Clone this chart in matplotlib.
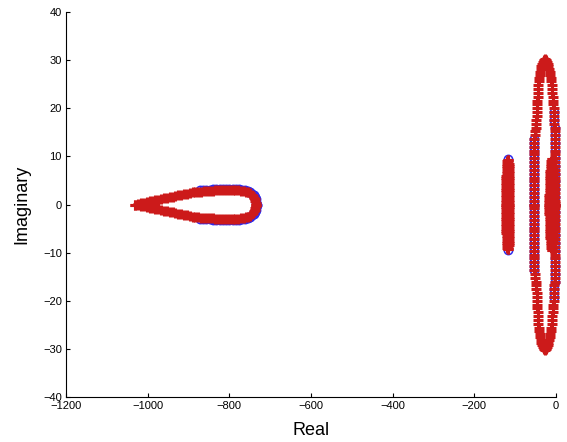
import numpy as np
import matplotlib
matplotlib.use('agg')
import matplotlib.pyplot as plt

plt.rcParams['font.family'] = ['Liberation Sans', 'DejaVu Sans']

# eigenvalues, upper half-plane only (the lower half is the complex conjugate)

# long branch on the far left: tip of the "V" and its closed end
tear_re = [-1030, -1023, -1016, -1009, -1002, -995, -988, -981, -974, -967,
           -960, -953, -946, -939, -932, -925, -918, -911, -904, -897,
           -890, -883, -876, -869, -862, -855, -848, -841, -834, -827,
           -820, -813, -806, -799, -792, -785, -778, -771, -765, -759,
           -754, -749, -745, -742, -739, -737, -736, -735, -735]
tear_im = [0.00, 0.12, 0.25, 0.38, 0.50, 0.63, 0.76, 0.88, 1.01, 1.14,
           1.27, 1.39, 1.52, 1.65, 1.77, 1.90, 2.03, 2.15, 2.28, 2.40,
           2.50, 2.58, 2.64, 2.70, 2.75, 2.80, 2.85, 2.90, 2.94, 2.97,
           3.00, 3.02, 3.03, 3.03, 3.02, 3.00, 2.95, 2.88, 2.78, 2.65,
           2.50, 2.30, 2.05, 1.75, 1.40, 1.05, 0.70, 0.35, 0.00]

# reference model only covers the closed end of that branch
tear_ref_re = [-872, -864, -856, -848, -840, -832, -824, -816, -808, -800,
               -792, -784, -776, -768, -761, -755, -749, -744, -740, -737,
               -735, -734, -733]
tear_ref_im = [2.95, 3.00, 3.05, 3.10, 3.15, 3.19, 3.22, 3.24, 3.25, 3.25,
               3.24, 3.22, 3.16, 3.06, 2.92, 2.75, 2.52, 2.22, 1.88, 1.48,
               1.05, 0.55, 0.00]

# straight column near -53
col_re = [-53.0, -53.0, -53.0, -53.1, -53.1, -53.1, -53.1, -53.1, -53.1,
          -53.1, -53.1, -53.0, -53.0, -53.0, -53.0, -53.0, -52.9, -52.8]
col_im = [0.0, 0.8, 1.6, 2.4, 3.2, 4.0, 4.8, 5.6, 6.4,
          7.2, 8.0, 8.8, 9.6, 10.4, 11.2, 12.0, 12.8, 13.6]

# outer loop: left side going up, then right side coming down
loop_re = [-52.0, -50.8, -49.6, -48.8, -48.1, -47.5, -46.9, -46.4, -45.9,
           -45.4, -44.9, -44.3, -43.6, -42.9, -42.0, -41.0, -39.9, -38.6,
           -37.2, -35.6, -33.9, -32.0, -30.0, -28.2, -27.0,
           -25.5, -24.0, -22.4, -20.8, -19.0, -17.2, -15.5, -14.0, -12.6,
           -11.4, -10.3, -9.4, -8.6, -7.9, -7.2, -6.5, -5.9, -5.3, -4.7,
           -4.2, -3.7, -3.3, -3.0, -2.8, -2.6, -2.5, -2.5, -2.4, -2.4,
           -2.4, -2.3, -2.3, -2.3, -2.3, -2.3, -2.3, -2.3, -2.3, -2.3,
           -2.3, -2.3, -2.3, -2.3]
loop_im = [14.4, 15.2, 16.0, 16.8, 17.6, 18.4, 19.2, 20.0, 20.8,
           21.6, 22.4, 23.2, 24.0, 24.8, 25.6, 26.3, 27.0, 27.6,
           28.2, 28.7, 29.2, 29.6, 29.9, 30.1, 30.2,
           30.1, 29.9, 29.6, 29.2, 28.7, 28.2, 27.6, 27.0, 26.3,
           25.6, 24.8, 24.0, 23.2, 22.4, 21.6, 20.8, 20.0, 19.2, 18.4,
           17.6, 16.8, 16.0, 15.2, 14.4, 13.6, 12.8, 12.0, 11.2, 10.4,
           9.6, 8.8, 8.0, 7.2, 6.4, 5.6, 4.8, 4.0, 3.2, 2.4,
           1.6, 0.8, 0.4, 0.0]

# reference model along the right side of the loop
right_ref_re = [-5.3, -4.2, -3.3, -2.8, -2.5, -2.4, -2.3, -2.3, -2.3, -2.3,
                -2.3, -2.3, -2.3]
right_ref_im = [19.2, 17.6, 16.0, 14.4, 12.8, 11.2, 9.6, 8.0, 6.4, 4.8,
                3.2, 1.6, 0.0]

# two narrow clusters: centre, half width and height of each level
a_centre = -118.0
a_im = [0.0, 0.5, 1.0, 1.5, 2.0, 2.5, 3.0, 3.5, 4.0, 4.5,
        5.0, 5.5, 6.0, 6.5, 7.0, 7.5, 8.0, 8.5, 9.0, 9.3]
a_half = [3.7, 3.7, 3.7, 3.7, 3.7, 3.7, 3.7, 3.7, 3.6, 3.6,
          3.5, 3.4, 3.3, 3.1, 2.9, 2.6, 2.2, 1.7, 1.0, 0.0]
# reference model for that cluster, only its end point
a_ref_re = [-118.0]
a_ref_im = [9.4]

c_centre = -10.5
c_im = [0.0, 0.5, 1.0, 1.5, 2.0, 2.5, 3.0, 3.5, 4.0, 4.5,
        5.0, 5.5, 6.0, 6.5, 7.0, 7.5, 8.0, 8.5, 9.0, 9.5]
c_half = [5.6, 5.6, 5.6, 5.5, 5.5, 5.4, 5.3, 5.2, 5.0, 4.8,
          4.6, 4.3, 4.0, 3.6, 3.2, 2.7, 2.1, 1.5, 0.8, 0.0]


def conj(re, im):
    """Add the conjugate half of a branch."""
    re = np.asarray(re, dtype=float)
    im = np.asarray(im, dtype=float)
    return np.concatenate([re, re[::-1]]), np.concatenate([im, -im[::-1]])


def cluster(centre, half, im):
    half = np.asarray(half, dtype=float)
    re = np.concatenate([centre - half, centre + half])
    return conj(re, np.concatenate([im, im]))


blue_branches = [conj(tear_ref_re, tear_ref_im), conj(col_re, col_im),
                 conj(right_ref_re, right_ref_im), conj(a_ref_re, a_ref_im)]
red_branches = [conj(tear_re, tear_im), conj(col_re, col_im), conj(loop_re, loop_im),
                cluster(a_centre, a_half, a_im), cluster(c_centre, c_half, c_im)]

fig = plt.figure(figsize=(5.67, 4.42), dpi=100)
ax = fig.add_axes([0.1164, 0.1018, 0.8642, 0.8710])

for re, im in blue_branches:
    ax.plot(re, im, 'o', color='#2a2af0', mfc='none', ms=6.0, mew=1.1, clip_on=False)
for re, im in red_branches:
    ax.plot(re, im, '+', color='#cc1a1a', ms=7.0, mew=2.2, clip_on=False)

ax.set_xlim(-1200, 0)
ax.set_ylim(-40, 40)
ax.set_xticks(np.arange(-1200, 1, 200))
ax.set_yticks(np.arange(-40, 41, 10))
ax.spines['top'].set_visible(False)
ax.spines['right'].set_visible(False)
ax.tick_params(direction='in', length=3, width=0.8, labelsize=8)
ax.tick_params(axis='x', pad=3)
ax.tick_params(axis='y', pad=3)
ax.set_xlabel('Real', fontsize=13, labelpad=8)
ax.set_ylabel('Imaginary', fontsize=13, labelpad=9)

fig.savefig('out.png', dpi=100)
